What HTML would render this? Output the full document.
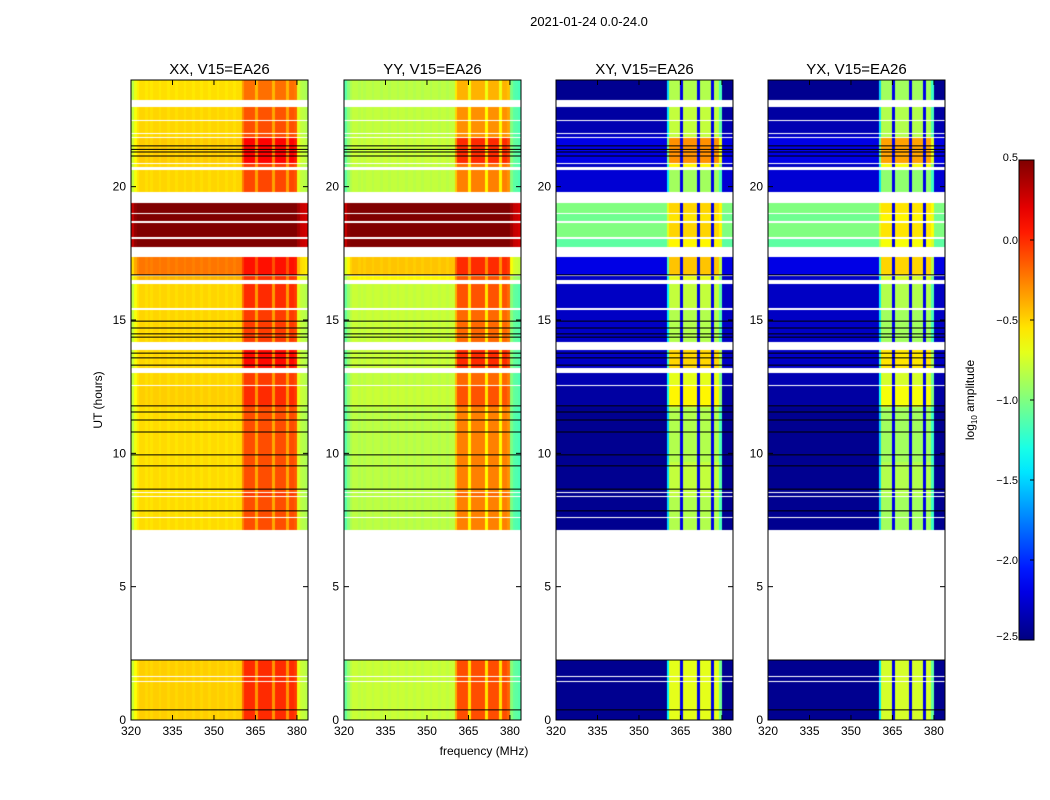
<!DOCTYPE html>
<html><head><meta charset="utf-8"><style>
body{margin:0;background:#fff;width:1050px;height:800px;overflow:hidden;font-family:"Liberation Sans",sans-serif;}
#root{position:relative;width:1050px;height:800px;}
canvas{position:absolute;}
svg{position:absolute;left:0;top:0;}
</style></head><body>
<div id="root">
<svg id="ov" width="1050" height="800"></svg>
</div>
<script>
// ---- data ----
const pols = ["XX","YY","XY","YX"];
const segStart = [23.25,22.5,22.02,21.88,20.9,20.75,19.8,19.0,18.7,18.1,17.75,16.7,16.5,15.45,14.18,13.2,12.56,11.74,9.68,8.55,8.4,7.61,7.43,7.24,7.12,1.65,1.45,0];
const segEnd   = [24,23.0,22.46,21.98,21.84,20.85,20.63,19.39,18.97,18.65,18.05,17.36,16.65,16.35,15.38,13.88,13.01,12.54,11.72,9.66,8.53,8.38,7.59,7.41,7.22,2.25,1.6,1.42];
const xxLow = [-0.53,-0.5,-0.5,-0.5,-0.47,-0.5,-0.5,0.6,0.6,0.6,0.6,-0.22,-0.4,-0.5,-0.5,-0.5,-0.5,-0.48,-0.52,-0.52,-0.52,-0.52,-0.52,-0.52,-0.52,-0.48,-0.48,-0.48];
const yyLow = [-0.82,-0.8,-0.8,-0.8,-0.78,-0.8,-0.8,0.6,0.6,0.6,0.6,-0.45,-0.6,-0.78,-0.78,-0.78,-0.8,-0.78,-0.82,-0.82,-0.82,-0.82,-0.82,-0.82,-0.82,-0.78,-0.78,-0.78];
const xxHigh = [-0.2,-0.12,-0.1,-0.1,0.12,-0.05,-0.08,0.6,0.6,0.6,0.6,0.08,-0.02,0.0,-0.05,0.1,-0.05,0.0,-0.1,-0.1,-0.05,-0.1,-0.1,-0.1,-0.1,0.0,0.0,0.0];
const yyHigh = [-0.4,-0.3,-0.3,-0.3,0.0,-0.2,-0.25,0.6,0.6,0.6,0.6,0.0,-0.12,-0.12,-0.18,0.0,-0.18,-0.12,-0.25,-0.25,-0.18,-0.25,-0.25,-0.25,-0.25,-0.1,-0.1,-0.1];
const xyLow = [-2.45,-2.4,-2.35,-2.3,-2.2,-2.3,-2.25,-1.0,-1.05,-1.0,-1.1,-2.2,-2.3,-2.3,-2.3,-2.3,-2.35,-2.4,-2.45,-2.45,-2.45,-2.45,-2.45,-2.45,-2.45,-2.45,-2.45,-2.45];
const xyHigh = [-0.85,-0.8,-0.8,-0.8,-0.3,-0.6,-0.9,-0.5,-0.55,-0.5,-0.6,-0.45,-0.7,-0.8,-0.85,-0.5,-0.7,-0.6,-0.85,-0.8,-0.8,-0.85,-0.85,-0.85,-0.85,-0.7,-0.7,-0.7];
// parallel-hand channel weights (320..383 MHz): 0..1 = fraction low->high, negative = absolute offset below low
const parWeight = [-0.3,-0.15,-0.05,0,0,-0.03,0,-0.03,0,0,-0.03,0,0,-0.03,0,0,-0.03,0,0,-0.03,0,0,-0.03,0,0,-0.03,0,0,-0.03,0,0,-0.03,0,0,-0.03,0,0,-0.03,0,0,
  0.6,1,1,1,1,0.35,1,1,1,1,1,0.35,1,1,1,1,0.35,1,1,0.9,-0.2,-0.3,-0.32,-0.35];
// cross-hand channel weights: 1 = band, -1 = dip, 0 = off-band
const crossBand = [0,0,0,0,0,0,0,0,0,0,0,0,0,0,0,0,0,0,0,0,0,0,0,0,0,0,0,0,0,0,0,0,0,0,0,0,0,0,0,0,
  0.6,1,1,1,1,-1,1,1,1,1,1,-1,1,1,1,1,-1,1,1,0.8,0,0,0,0];
const blackLines = [21.53,21.4,21.3,21.15,16.69,14.96,14.7,14.48,14.36,13.76,13.58,13.31,11.78,11.55,11.25,10.8,9.94,9.53,8.66,7.84,2.25,0.38];
const yTicks = [0,5,10,15,20];
const xTicks = [320,335,350,365,380];
const cbTicks = [0.5,0.0,-0.5,-1.0,-1.5,-2.0,-2.5];
const cbLabels = ["0.5","0.0","\u22120.5","\u22121.0","\u22121.5","\u22122.0","\u22122.5"];

// ---- layout ----
const panelX = [131,344,556,768], PW=177, PT=80, PH=640;
const fMin=320,fMax=384,hMax=24,vMin=-2.5,vMax=0.5;
const xs=(f,i)=>panelX[i]+(f-fMin)/(fMax-fMin)*PW;
const ys=h=>PT+PH-(h/hMax)*PH;
function jet(v){let t=(v-vMin)/(vMax-vMin);t=Math.max(0,Math.min(1,t));
 const c=x=>Math.round(255*Math.max(0,Math.min(1,x)));
 return [c(1.5-Math.abs(4*t-3)),c(1.5-Math.abs(4*t-2)),c(1.5-Math.abs(4*t-1))];}
function value(p,s,ch){
 if(p<2){const lo=p==0?xxLow[s]:yyLow[s],hi=p==0?xxHigh[s]:yyHigh[s];
   const w=parWeight[ch]; if(w>0) return lo+(hi-lo)*w; return lo+w;}
 const b=crossBand[ch]; const lo=xyLow[s],hi=xyHigh[s]+(p==3?-0.05:0);
 if(b>0) return lo+(hi-lo)*b; if(b<0) return -2.2; return lo;}
const root=document.getElementById('root');
const svg=document.getElementById('ov');
const NS="http://www.w3.org/2000/svg";
function mk(tag,attrs,parent){const e=document.createElementNS(NS,tag);for(const k in attrs)e.setAttribute(k,attrs[k]);(parent||svg).appendChild(e);return e;}
pols.forEach((p,i)=>{
 const cv=document.createElement('canvas');
 cv.width=PW;cv.height=PH;cv.style.left=panelX[i]+'px';cv.style.top=PT+'px';
 
 
 root.insertBefore(cv,svg);
 const ctx=cv.getContext('2d');const img=ctx.createImageData(PW,PH);
 for(let py=0;py<PH;py++){const h=hMax-(py+0.5)/PH*hMax;
  let s=-1;for(let k=0;k<segStart.length;k++){if(h>=segStart[k]&&h<segEnd[k]){s=k;break;}}
  for(let px=0;px<PW;px++){const idx=(py*PW+px)*4;
   if(s<0){img.data[idx]=255;img.data[idx+1]=255;img.data[idx+2]=255;img.data[idx+3]=255;continue;}
   const f=fMin+(px+0.5)/PW*(fMax-fMin);const ch=Math.min(63,Math.floor(f-fMin));
   const [r,g,b]=jet(value(i,s,ch));img.data[idx]=r;img.data[idx+1]=g;img.data[idx+2]=b;img.data[idx+3]=255;}}
 ctx.putImageData(img,0,0);
 blackLines.forEach(h=>{const l=mk('line',{x1:panelX[i],x2:panelX[i]+PW,y1:ys(h),y2:ys(h),stroke:'#000','stroke-width':1});
  
  });
 const fr=mk('rect',{x:panelX[i],y:PT,width:PW,height:PH,fill:'none',stroke:'#000','stroke-width':1});
 
 
 const t=mk('text',{x:panelX[i]+PW/2,y:74,'text-anchor':'middle','font-size':15});t.textContent=p+', V15=EA26';
 
 
 yTicks.forEach(v=>{const y=ys(v);mk('line',{x1:panelX[i],x2:panelX[i]+5,y1:y,y2:y,stroke:'#000'});mk('line',{x1:panelX[i]+PW-5,x2:panelX[i]+PW,y1:y,y2:y,stroke:'#000'});
  const tx=mk('text',{x:panelX[i]-5,y:y+4,'text-anchor':'end','font-size':12});tx.textContent=v;
  
  });
 xTicks.forEach(v=>{const x=xs(v,i);mk('line',{x1:x,x2:x,y1:PT,y2:PT+5,stroke:'#000'});mk('line',{x1:x,x2:x,y1:PT+PH-5,y2:PT+PH,stroke:'#000'});
  const tx=mk('text',{x:x,y:PT+PH+15,'text-anchor':'middle','font-size':12});tx.textContent=v;
  
  });
});
// colorbar
const cbX=1019,cbY=160,cbW=15,cbH=480;
const g=mk('defs',{});const lg=mk('linearGradient',{id:'jetg',x1:0,y1:1,x2:0,y2:0},g);
for(let k=0;k<=20;k++){const v=vMin+(vMax-vMin)*k/20;const [r,gg,b]=jet(v);mk('stop',{offset:k/20,'stop-color':`rgb(${r},${gg},${b})`},lg);}
const cb=mk('rect',{x:cbX,y:cbY,width:cbW,height:cbH,fill:'url(#jetg)',stroke:'#000'});


cbTicks.forEach((v,k)=>{const y=cbY+(vMax-v)/(vMax-vMin)*cbH;mk('line',{x1:cbX+cbW-4,x2:cbX+cbW,y1:y,y2:y,stroke:'#000'});
 const tx=mk('text',{x:cbX-1,y:y+(k==0?1:k==6?0:4),'font-size':11,'text-anchor':'end'});tx.textContent=cbLabels[k];
 
 });
const lab=mk('text',{x:0,y:0,'font-size':12,'text-anchor':'middle',transform:'translate(974,400) rotate(-90)'});
lab.innerHTML='log<tspan font-size="8" dy="3">10</tspan><tspan dy="-3"> amplitude</tspan>';


const yl=mk('text',{x:0,y:0,'font-size':12,'text-anchor':'middle',transform:'translate(102,400) rotate(-90)'});yl.textContent='UT (hours)';


const xl=mk('text',{x:484,y:755,'font-size':12,'text-anchor':'middle'});xl.textContent='frequency (MHz)';


const st=mk('text',{x:589,y:26,'font-size':13,'text-anchor':'middle'});st.textContent='2021-01-24 0.0-24.0';


</script>
</body></html>
